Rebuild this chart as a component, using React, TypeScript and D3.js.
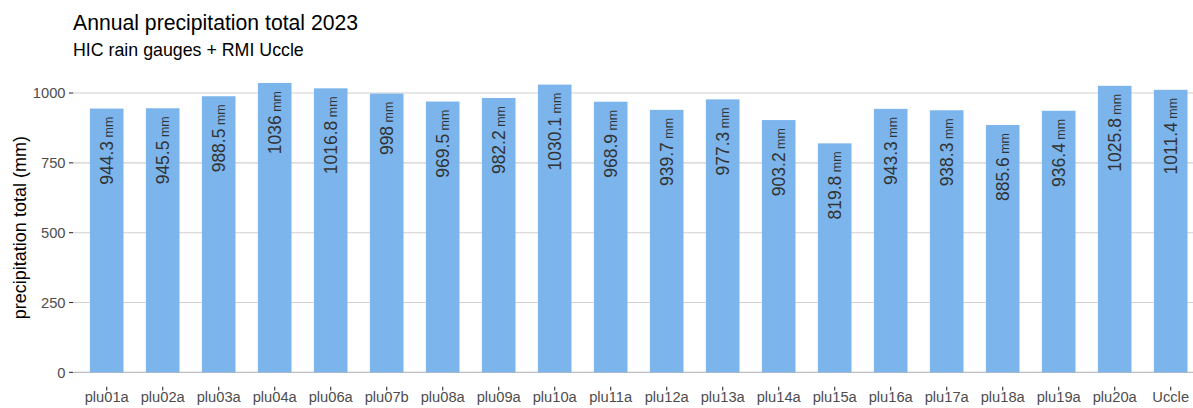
import React from "react";
import * as d3 from "d3";

const stations = ["plu01a","plu02a","plu03a","plu04a","plu06a","plu07b","plu08a","plu09a","plu10a","plu11a","plu12a","plu13a","plu14a","plu15a","plu16a","plu17a","plu18a","plu19a","plu20a","Uccle"];
const totals = [944.3,945.5,988.5,1036,1016.8,998,969.5,982.2,1030.1,968.9,939.7,977.3,903.2,819.8,943.3,938.3,885.6,936.4,1025.8,1011.4];
const yTicks = [0, 250, 500, 750, 1000];
const title = "Annual precipitation total 2023";
const subtitle = "HIC rain gauges + RMI Uccle";
const yTitle = "precipitation total (mm)";

const W = 1193, H = 408;
const FONT = "'Liberation Sans', Arial, Helvetica, sans-serif";

export default function App() {
  const left = 73.1, right = 1204.3, top = 68.5, bottom = 386.8;
  const x = d3.scaleBand<string>().domain(stations).range([left, right]).paddingInner(0.4).paddingOuter(0.3);
  const maxV = d3.max(totals) as number;
  const y = d3.scaleLinear().domain([-0.05 * maxV, maxV * 1.05]).range([bottom, top]);
  const bw = x.bandwidth();
  return (
    <svg width={W} height={H} style={{ position: "absolute", left: 0, top: 0, fontFamily: FONT }}>
      <rect width={W} height={H} fill="#fff" />
      <text x={73} y={30} fontSize={21.2} fill="#000">{title}</text>
      <text x={73} y={56} fontSize={17.8} fill="#000">{subtitle}</text>
      {yTicks.map((t) => (
        <g key={t}>
          <line x1={left} x2={W} y1={y(t)} y2={y(t)} stroke={t === 0 ? "#bdbdbd" : "#d0d0d0"} strokeWidth={1.1} />
          <line x1={69} x2={left} y1={y(t)} y2={y(t)} stroke="#333" strokeWidth={1.1} />
          <text x={65.5} y={y(t)} dy="0.36em" textAnchor="end" fontSize={14.7} fill="#4d4d4d">{t}</text>
        </g>
      ))}
      <text transform={`translate(26,${(top + bottom) / 2}) rotate(-90)`} textAnchor="middle" fontSize={18} fill="#000">{yTitle}</text>
      {stations.map((s, i) => {
        const cx = (x(s) as number) + bw / 2;
        const v = totals[i];
        return (
          <g key={s}>
            <rect x={x(s)} y={y(v)} width={bw} height={y(0) - y(v)} fill="#7cb5ec" />
            <text transform={`translate(${cx + 6},${y(v) + 8}) rotate(-90)`} textAnchor="end" fill="#333">
              <tspan fontSize={17.5}>{String(v)}</tspan>
              <tspan fontSize={12.5}>{" mm"}</tspan>
            </text>
            <line x1={cx} x2={cx} y1={bottom} y2={bottom + 3.7} stroke="#333" strokeWidth={1.1} />
            <text x={cx} y={402} textAnchor="middle" fontSize={14.7} fill="#4d4d4d">{s}</text>
          </g>
        );
      })}
    </svg>
  );
}
